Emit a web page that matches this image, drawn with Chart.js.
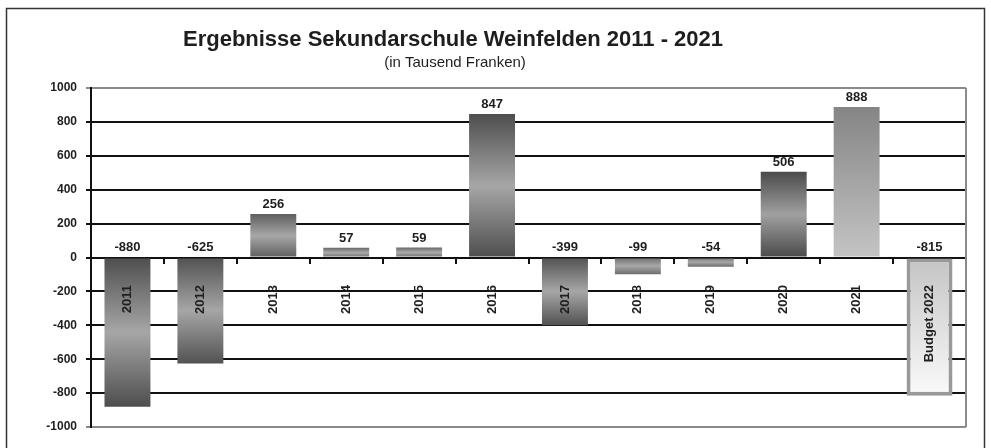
<!DOCTYPE html>
<html>
<head>
<meta charset="utf-8">
<script src="https://cdn.jsdelivr.net/npm/chart.js@4.4.0/dist/chart.umd.min.js"></script>
<style>
  html, body { margin: 0; padding: 0; background: #fff; }
  #chart { display: block; }
</style>
</head>
<body>
<canvas id="chart" width="991" height="448"></canvas>
<script>
// Daten
const jahre = ["2011", "2012", "2013", "2014", "2015", "2016", "2017", "2018", "2019", "2020", "2021", "Budget 2022"];
const ergebnisse = [-880, -625, 256, 57, 59, 847, -399, -99, -54, 506, 888, -815];
const yMin = -1000;
const yMax = 1000;
const yStep = 200;

const titel = "Ergebnisse Sekundarschule Weinfelden 2011 - 2021";
const untertitel = "(in Tausend Franken)";

// Farben (dunkel, hell) pro Balken
const dunkel = ["#4e4e4e", "#525252", "#5e5e5e", "#6a6a6a", "#6a6a6a", "#4e4e4e", "#525252", "#6e6e6e", "#6e6e6e", "#4a4a4a", "#858585", "#c4c4c4"];
const hell = ["#a6a6a6", "#a6a6a6", "#a8a8a8", "#ababab", "#ababab", "#a6a6a6", "#a6a6a6", "#a8a8a8", "#a8a8a8", "#a0a0a0", "#c4c4c4", "#fafafa"];

const schrift = "'Liberation Sans', Arial, sans-serif";

// Verlauf: Rand dunkel, Mitte hell (2021 und Budget: linear)
function balkenFarbe(context) {
  const chart = context.chart;
  const y = chart.scales.y;
  const i = context.dataIndex;
  if (!y || i === undefined) return dunkel[i] || "#777";
  const v = ergebnisse[i];
  const a = y.getPixelForValue(Math.max(v, 0));
  const b = y.getPixelForValue(Math.min(v, 0));
  if (!Number.isFinite(a) || !Number.isFinite(b) || Math.abs(b - a) < 1) return dunkel[i];
  const g = chart.ctx.createLinearGradient(0, a, 0, b);
  if (i >= 10) {
    g.addColorStop(0, dunkel[i]);
    g.addColorStop(1, hell[i]);
  } else {
    g.addColorStop(0, dunkel[i]);
    g.addColorStop(0.5, hell[i]);
    g.addColorStop(1, dunkel[i]);
  }
  return g;
}

// Rahmen, Titel, Beschriftungen
const beschriftung = {
  id: "beschriftung",
  beforeDraw(chart) {
    const ctx = chart.ctx;
    ctx.save();
    ctx.strokeStyle = "#333";
    ctx.lineWidth = 1.5;
    ctx.strokeRect(6.5, 8.5, 978, 450);
    ctx.fillStyle = "#1e1e1e";
    ctx.textAlign = "center";
    ctx.textBaseline = "middle";
    ctx.font = "bold 22px " + schrift;
    ctx.fillText(titel, 453, 40);
    ctx.font = "15px " + schrift;
    ctx.fillText(untertitel, 455, 63);
    ctx.restore();
  },
  beforeDatasetsDraw(chart) {
    const ctx = chart.ctx;
    const a = chart.chartArea;
    ctx.save();
    ctx.strokeStyle = "#8a8a8a";
    ctx.lineWidth = 2;
    ctx.beginPath();
    ctx.moveTo(a.right, a.top);
    ctx.lineTo(a.right, a.bottom);
    ctx.stroke();
    ctx.restore();
  },
  afterDatasetsDraw(chart) {
    const ctx = chart.ctx;
    const meta = chart.getDatasetMeta(0);
    const null_y = chart.scales.y.getPixelForValue(0);
    ctx.save();
    ctx.fillStyle = "#1e1e1e";
    meta.data.forEach((bar, i) => {
      const v = ergebnisse[i];
      ctx.font = "bold 13px " + schrift;
      ctx.textAlign = "center";
      ctx.textBaseline = "bottom";
      const ty = v > 0 ? bar.y - 3 : null_y - 4;
      ctx.fillText(String(v), bar.x, ty);

      ctx.save();
      ctx.translate(bar.x, 285);
      ctx.rotate(-Math.PI / 2);
      ctx.font = "bold 13px " + schrift;
      ctx.textAlign = "right";
      ctx.textBaseline = "middle";
      ctx.fillText(jahre[i], 0, 0);
      ctx.restore();
    });
    ctx.restore();
  }
};

new Chart(document.getElementById("chart"), {
  type: "bar",
  data: {
    labels: jahre,
    datasets: [{
      data: ergebnisse,
      backgroundColor: balkenFarbe,
      borderColor: "#999",
      borderWidth: jahre.map((j, i) => i === 11 ? 4 : 0),
      borderSkipped: false,
      barPercentage: 0.63,
      categoryPercentage: 1
    }]
  },
  options: {
    responsive: false,
    animation: false,
    devicePixelRatio: 1,
    layout: { padding: { left: 0, top: 88, right: 25, bottom: 21 } },
    plugins: {
      legend: { display: false },
      tooltip: { enabled: false },
      title: { display: false }
    },
    scales: {
      x: {
        position: { y: 0 },
        ticks: { display: false },
        grid: { drawOnChartArea: false, drawTicks: true, tickLength: 5, color: "#111", lineWidth: 2 },
        border: { color: "#111", width: 2 }
      },
      y: {
        min: yMin,
        max: yMax,
        afterFit(scale) { scale.width = 91; },
        ticks: {
          stepSize: yStep,
          padding: 9,
          color: "#1e1e1e",
          font: { family: schrift, size: 12, weight: "bold" },
          callback: (v) => String(v)
        },
        grid: {
          color: (c) => c.tick && Math.abs(c.tick.value) === 1000 ? "#8a8a8a" : "#111",
          lineWidth: 2,
          tickLength: 5
        },
        border: { color: "#111", width: 2 }
      }
    }
  },
  plugins: [beschriftung]
});
</script>
</body>
</html>
